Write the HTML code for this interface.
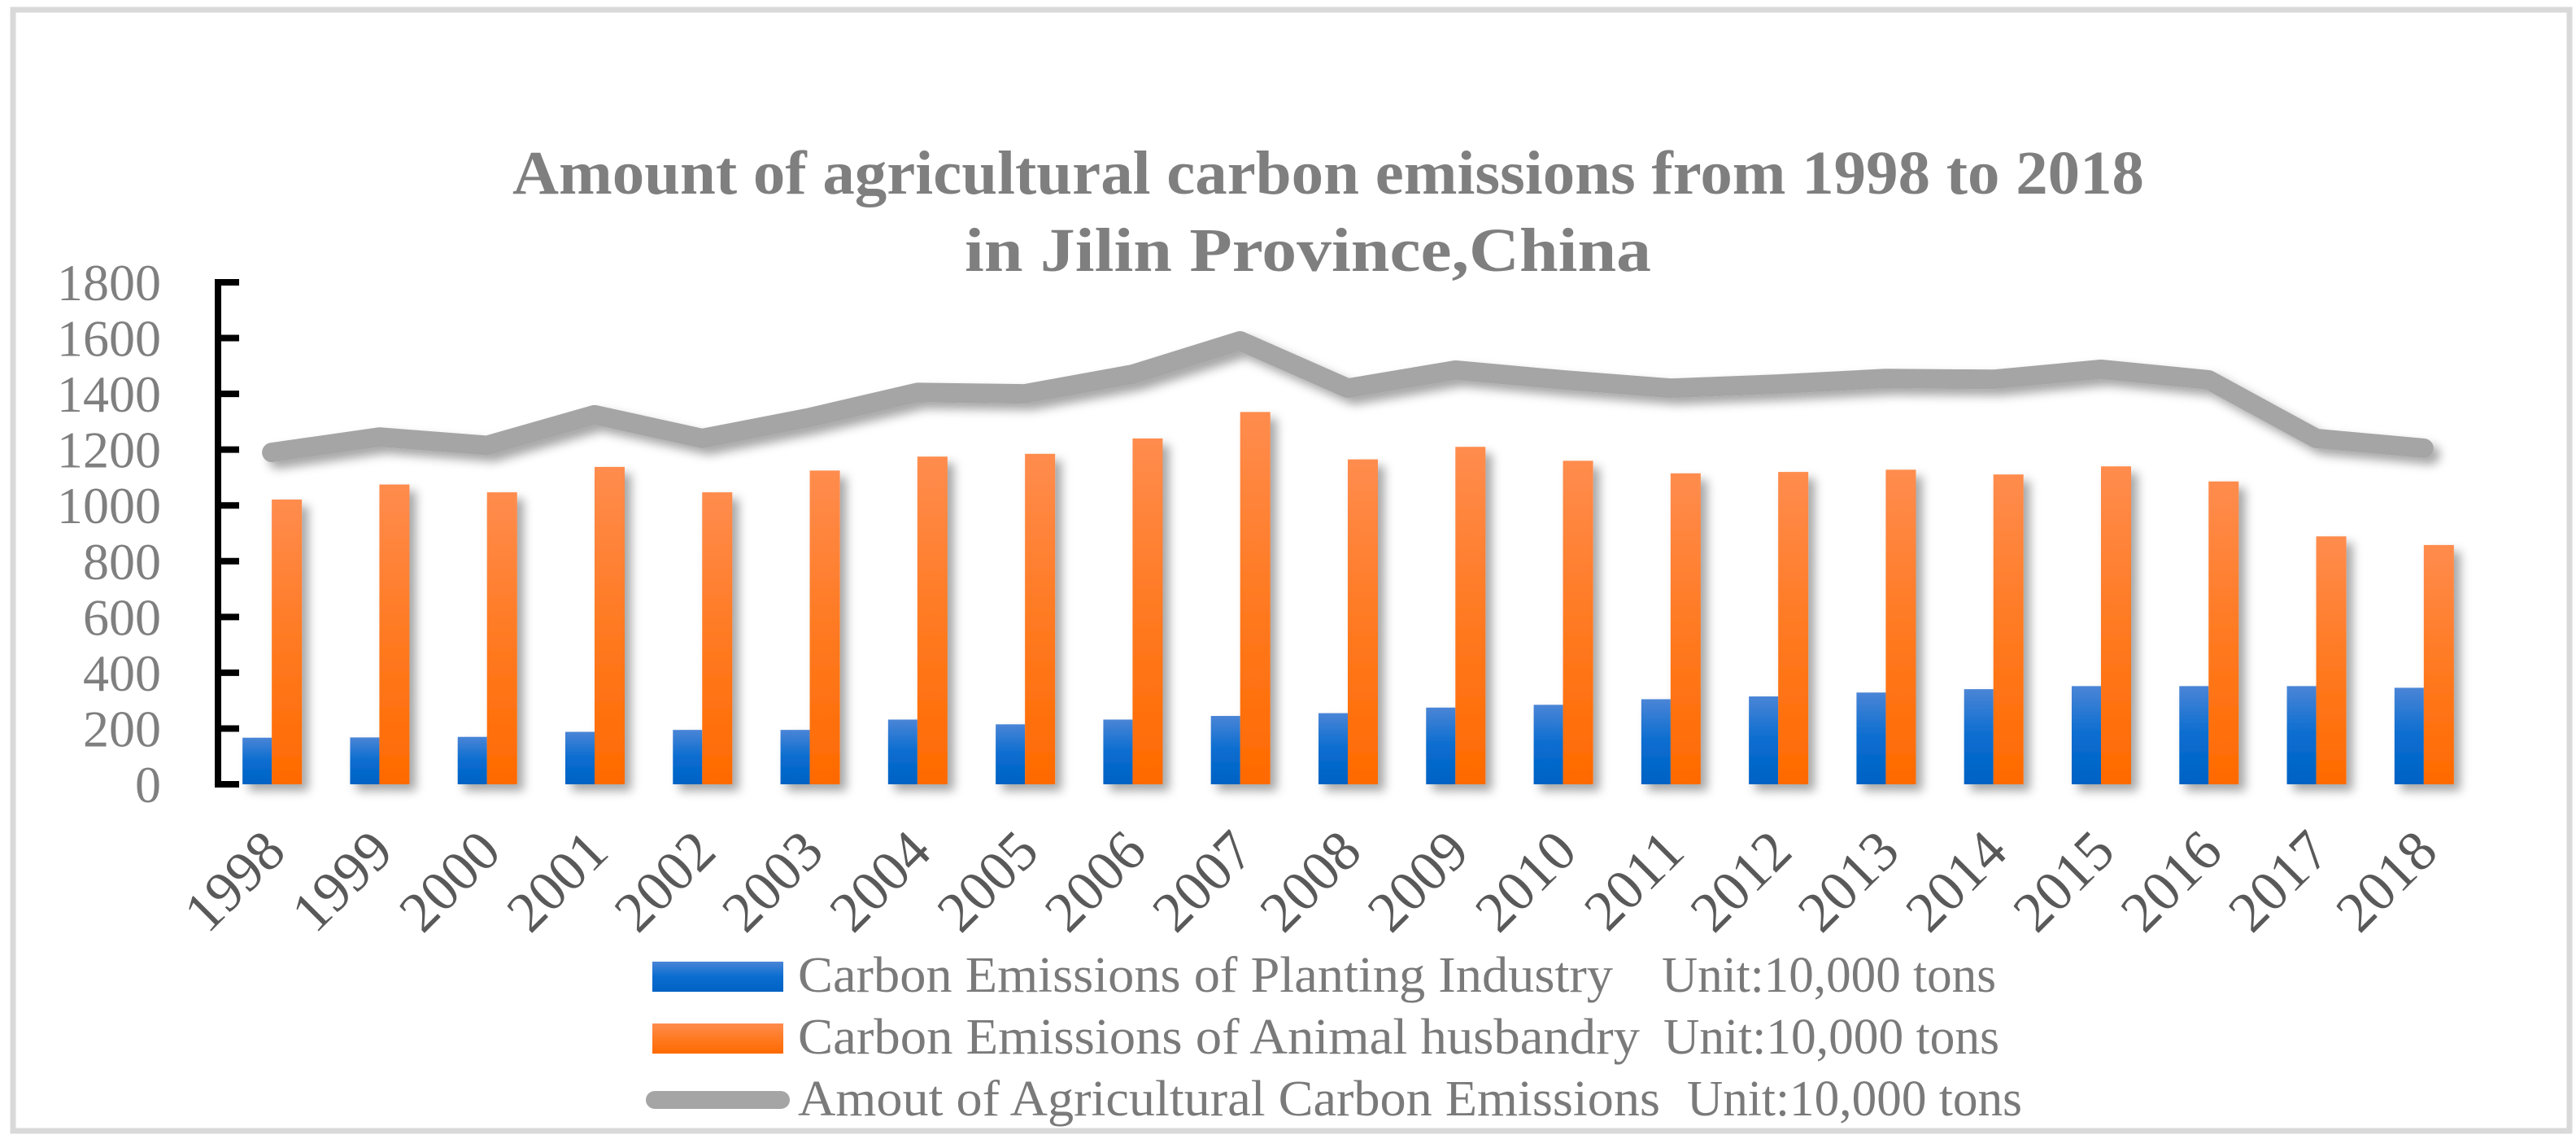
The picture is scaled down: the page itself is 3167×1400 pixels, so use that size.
<!DOCTYPE html>
<html><head><meta charset="utf-8"><style>
html,body{margin:0;padding:0;background:#fff;}
svg{display:block;}
</style></head><body>
<svg id="chart" width="3167" height="1400" viewBox="0 0 3167 1400" xmlns="http://www.w3.org/2000/svg">
<defs>
<linearGradient id="gBlue" x1="0" y1="0" x2="0" y2="1"><stop offset="0" stop-color="#4a85d6"/><stop offset="0.5" stop-color="#0a6dd0"/><stop offset="1" stop-color="#0062c4"/></linearGradient>
<linearGradient id="gOrange" x1="0" y1="0" x2="0" y2="1"><stop offset="0" stop-color="#ff8c4e"/><stop offset="0.5" stop-color="#ff7a22"/><stop offset="1" stop-color="#ff6a00"/></linearGradient>
<filter id="sh" x="-50%" y="-20%" width="200%" height="150%"><feDropShadow dx="8" dy="8" stdDeviation="6" flood-color="#000" flood-opacity="0.35"/></filter>
</defs>
<rect x="16" y="12" width="3143" height="1378" fill="none" stroke="#d9d9d9" stroke-width="7"/>
<text x="1633" y="238" text-anchor="middle" font-family="Liberation Serif, serif" font-weight="bold" font-size="76" fill="#7f7f7f" textLength="2006" lengthAdjust="spacingAndGlyphs">Amount of agricultural carbon emissions from 1998 to 2018</text>
<text x="1608" y="333" text-anchor="middle" font-family="Liberation Serif, serif" font-weight="bold" font-size="76" fill="#7f7f7f" textLength="844" lengthAdjust="spacingAndGlyphs">in Jilin Province,China</text>
<g id="plot"></g>
<g id="legend">
<rect x="802" y="1182" width="161" height="37" fill="url(#gBlue)"/>
<text x="981" y="1219" font-family="Liberation Serif, serif" font-size="62" fill="#7a7a7a" textLength="1002" lengthAdjust="spacingAndGlyphs">Carbon Emissions of Planting Industry</text>
<text x="2043" y="1219" font-family="Liberation Serif, serif" font-size="62" fill="#7a7a7a" textLength="411" lengthAdjust="spacingAndGlyphs">Unit:10,000 tons</text>
<rect x="802" y="1258" width="161" height="37" fill="url(#gOrange)"/>
<text x="981" y="1295" font-family="Liberation Serif, serif" font-size="62" fill="#7a7a7a" textLength="1035" lengthAdjust="spacingAndGlyphs">Carbon Emissions of Animal husbandry</text>
<text x="2045" y="1295" font-family="Liberation Serif, serif" font-size="62" fill="#7a7a7a" textLength="413" lengthAdjust="spacingAndGlyphs">Unit:10,000 tons</text>
<line x1="805" y1="1352" x2="960" y2="1352" stroke="#a5a5a5" stroke-width="22" stroke-linecap="round"/>
<text x="981" y="1371" font-family="Liberation Serif, serif" font-size="62" fill="#7a7a7a" textLength="1060" lengthAdjust="spacingAndGlyphs">Amout of Agricultural Carbon Emissions</text>
<text x="2074" y="1371" font-family="Liberation Serif, serif" font-size="62" fill="#7a7a7a" textLength="412" lengthAdjust="spacingAndGlyphs">Unit:10,000 tons</text>
</g>
</svg>
<script>
const years = ["1998","1999","2000","2001","2002","2003","2004","2005","2006","2007","2008","2009","2010","2011","2012","2013","2014","2015","2016","2017","2018"];
const planting = [167,168,170,188,195,195,232,215,232,245,255,275,285,305,315,329,341,352,352,352,346];
const animal = [1021,1075,1047,1138,1047,1125,1175,1185,1240,1335,1165,1210,1160,1115,1120,1128,1111,1140,1086,889,858];
const total = [1190,1245,1215,1325,1240,1315,1405,1400,1470,1590,1420,1485,1450,1420,1435,1455,1452,1488,1450,1240,1205];
const yTicks = [0,200,400,600,800,1000,1200,1400,1600,1800];

const NS = "http://www.w3.org/2000/svg";
const plot = document.getElementById('plot');
const X0 = 268, X1 = 3046, Y0 = 964, YTOP = 347, YMAX = 1800;
const step = (X1 - X0) / years.length;
const yScale = v => Y0 - v / YMAX * (Y0 - YTOP);
const xCenter = i => X0 + step * (i + 0.5);
const BW = 36;
function mk(tag, attrs){ const e = document.createElementNS(NS, tag); for (const k in attrs) e.setAttribute(k, attrs[k]); return e; }

// y tick labels
yTicks.forEach(t => {
  const tx = mk('text', {x: 198, y: yScale(t) + 22, 'text-anchor': 'end', 'font-family': 'Liberation Serif, serif', 'font-size': 64, fill: '#7f7f7f'});
  
  
  tx.textContent = t; plot.appendChild(tx);
});

// bars
const bars = mk('g', {filter: 'url(#sh)'});


plot.appendChild(bars);
years.forEach((yr, i) => {
  const c = xCenter(i);
  const b = mk('rect', {x: c - BW, y: yScale(planting[i]), width: BW, height: Y0 - yScale(planting[i]), fill: 'url(#gBlue)'});
  
  
  bars.appendChild(b);
  const o = mk('rect', {x: c, y: yScale(animal[i]), width: BW + 1, height: Y0 - yScale(animal[i]), fill: 'url(#gOrange)'});
  
  
  bars.appendChild(o);
});

// total line
const pts = total.map((v, i) => xCenter(i) + ',' + yScale(v)).join(' ');
const ln = mk('polyline', {points: pts, fill: 'none', stroke: '#a5a5a5', 'stroke-width': 24, 'stroke-linejoin': 'round', 'stroke-linecap': 'round', filter: 'url(#sh)'});


plot.appendChild(ln);

// axes
const ya = mk('line', {x1: X0, y1: YTOP - 4, x2: X0, y2: Y0 + 4, stroke: '#000', 'stroke-width': 8});


plot.appendChild(ya);
yTicks.forEach(t => {
  const tk = mk('line', {x1: X0, y1: yScale(t), x2: X0 + 26, y2: yScale(t), stroke: '#000', 'stroke-width': 8});
  
  
  plot.appendChild(tk);
});
const xa = mk('line', {x1: X0 - 4, y1: Y0, x2: X1, y2: Y0, stroke: '#000', 'stroke-width': 8, filter: 'url(#sh)'});


plot.appendChild(xa);

// x labels
years.forEach((yr, i) => {
  const x = xCenter(i) + 20, y = 1050;
  const tx = mk('text', {x: x, y: y, 'text-anchor': 'end', 'font-family': 'Liberation Serif, serif', 'font-size': 70, fill: '#595959', transform: 'rotate(-45 ' + x + ' ' + y + ')'});
  
  
  tx.textContent = yr; plot.appendChild(tx);
});
</script>
</body></html>
